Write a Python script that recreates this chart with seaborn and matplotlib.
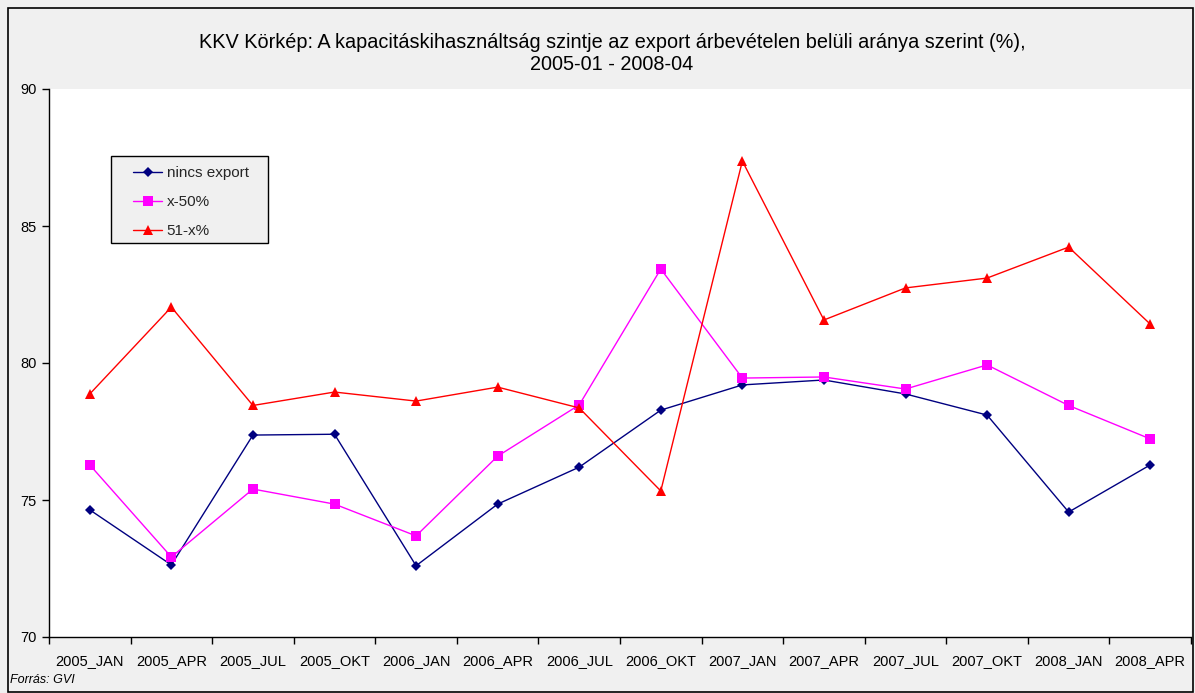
import matplotlib
matplotlib.use("Agg")
import matplotlib.pyplot as plt
import seaborn as sns
import pandas as pd
import numpy as np
from matplotlib.ticker import FixedLocator, NullFormatter
from matplotlib.patches import Rectangle

categories = ["2005_JAN", "2005_APR", "2005_JUL", "2005_OKT", "2006_JAN", "2006_APR",
              "2006_JUL", "2006_OKT", "2007_JAN", "2007_APR", "2007_JUL", "2007_OKT",
              "2008_JAN", "2008_APR"]
nincs_export = [74.64, 72.63, 77.37, 77.40, 72.60, 74.85, 76.20, 78.28, 79.20, 79.38,
                78.87, 78.10, 74.56, 76.28]
x_50 = [76.28, 72.92, 75.40, 74.85, 73.69, 76.60, 78.47, 83.43, 79.45, 79.49,
        79.05, 79.93, 78.45, 77.23]
x_51 = [78.87, 82.04, 78.45, 78.94, 78.61, 79.12, 78.36, 75.33, 87.37, 81.57,
        82.74, 83.10, 84.23, 81.42]
series_names = ["nincs export", "x-50%", "51-x%"]
yticks = [70, 75, 80, 85, 90]

sns.set_theme(style="white")
plt.rcParams['font.family'] = ['Liberation Sans', 'DejaVu Sans']

idx = np.arange(len(categories))
df = pd.DataFrame({
    "pos": np.tile(idx, 3),
    "value": nincs_export + x_50 + x_51,
    "series": np.repeat(series_names, len(categories)),
})

fig = plt.figure(figsize=(11.95, 6.93), dpi=100, facecolor="#f0f0f0")
ax = fig.add_axes([49/1195, 1-637/693, (1191-49)/1195, (637-89)/693])
ax.set_facecolor("white")

palette = {"nincs export": "#000080", "x-50%": "#ff00ff", "51-x%": "#ff0000"}
markers = {"nincs export": "D", "x-50%": "s", "51-x%": "^"}
sizes = {"nincs export": 5, "x-50%": 6.5, "51-x%": 7}
for name in series_names:
    sub = df[df["series"] == name]
    sns.lineplot(data=sub, x="pos", y="value", ax=ax, color=palette[name],
                 marker=markers[name], markersize=sizes[name], markeredgewidth=0,
                 linewidth=1.0, label=name, legend=False)

ax.set_xlim(-0.5, len(categories) - 0.5)
ax.set_ylim(70, 90)
ax.set_yticks(yticks)
ax.set_xticks(idx)
ax.set_xticklabels(categories)
ax.xaxis.set_minor_locator(FixedLocator(np.arange(-0.5, len(categories), 1.0)))
ax.xaxis.set_minor_formatter(NullFormatter())
ax.tick_params(axis="x", which="major", length=0, pad=12, labelsize=10.5, colors="black")
ax.tick_params(axis="x", which="minor", length=5, width=1, color="black", direction="out", bottom=True)
ax.tick_params(axis="y", which="major", length=5, width=1, color="black", direction="out",
               left=True, labelsize=10.5, labelcolor="black", pad=4)
ax.set_xlabel("")
ax.set_ylabel("")
for s in ["top", "right"]:
    ax.spines[s].set_visible(False)
for s in ["left", "bottom"]:
    ax.spines[s].set_color("black")
    ax.spines[s].set_linewidth(1)

# legend frame
ax.add_patch(Rectangle(((111-49)/1142, (637-243)/548), 157/1142, 87/548,
                       transform=ax.transAxes, facecolor="#f0f0f0", edgecolor="black",
                       linewidth=1, zorder=4))
leg = ax.legend(loc="upper left", bbox_to_anchor=((133-49)/1142, (637-166)/548),
                frameon=False, fontsize=11, handlelength=1.9, labelspacing=0.98,
                borderpad=0, handletextpad=0.3, borderaxespad=0)
leg.set_zorder(5)

fig.text(612/1195, 1-43/693, "KKV Körkép: A kapacitáskihasználtság szintje az export árbevételen belüli aránya szerint (%),",
         ha="center", va="center", fontsize=14.3, color="black")
fig.text(612/1195, 1-65/693, "2005-01 - 2008-04", ha="center", va="center", fontsize=14.3, color="black")
fig.text(10/1195, 1-680/693, "Forrás: GVI", ha="left", va="center", fontsize=9, style="italic", color="black")

fig.patches.append(Rectangle((8/1195, 1/693), 1185/1195, 684/693, transform=fig.transFigure,
                             fill=False, edgecolor="black", linewidth=1.2))

fig.savefig("out.png", dpi=100, facecolor=fig.get_facecolor())
